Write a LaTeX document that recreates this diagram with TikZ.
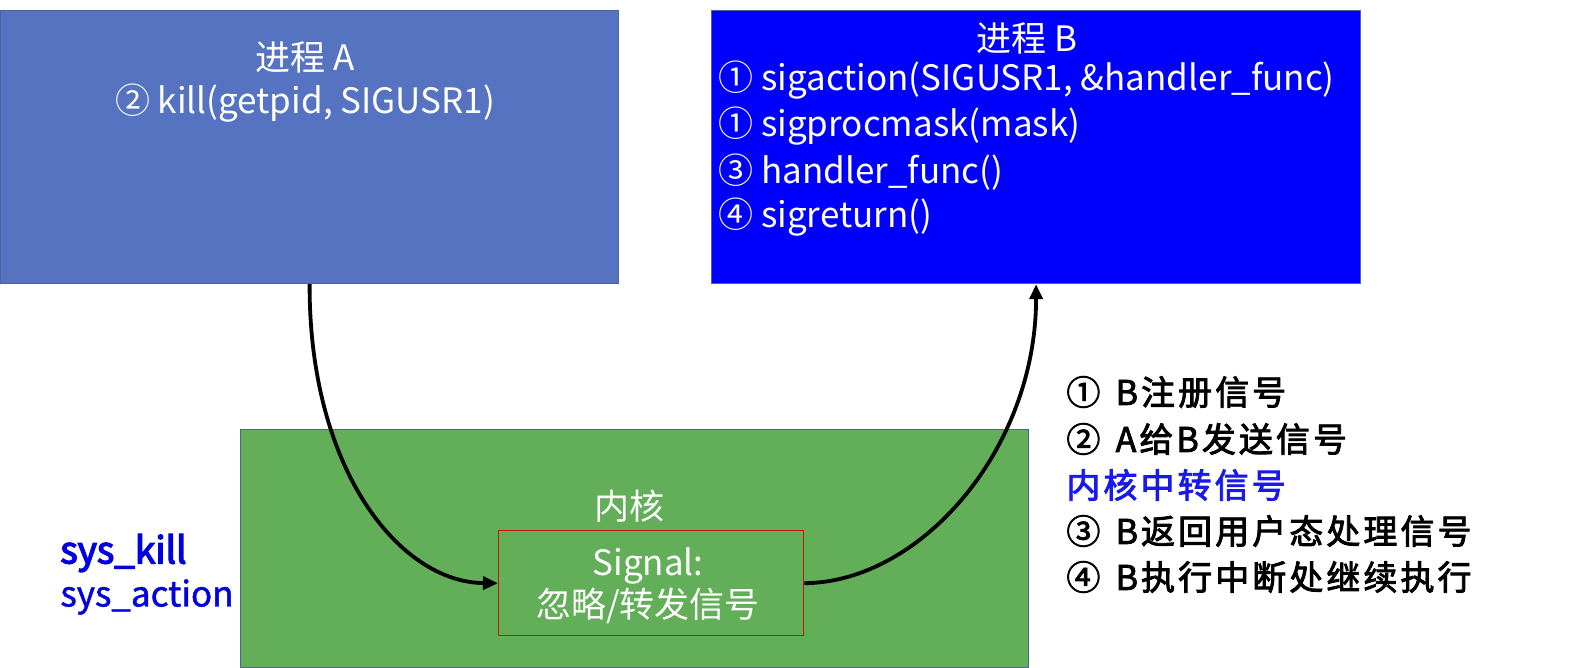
\documentclass[tikz,border=0pt]{standalone}
\usepackage{fontspec}
\setmainfont{Noto Sans CJK SC}
\newfontfamily\legendfont[FakeBold=2.5,LetterSpace=9]{Noto Sans CJK SC}
\newfontfamily\syskfont[FakeBold=3.5]{Noto Sans CJK SC}
\newfontfamily\sysafont[FakeBold=1.2]{Noto Sans CJK SC}
\usetikzlibrary{arrows.meta}
\definecolor{aFill}{RGB}{85,115,193}
\definecolor{edgeC}{RGB}{75,100,155}
\definecolor{bFill}{RGB}{0,0,255}
\definecolor{gFill}{RGB}{99,174,88}
\definecolor{redC}{RGB}{200,20,10}
\definecolor{sysC}{RGB}{0,0,225}
\definecolor{midC}{RGB}{25,25,235}
\tikzset{
  region/.style={draw=edgeC, line width=0.6pt, inner sep=0pt, anchor=north west},
  boxtext/.style={text=white, inner sep=0pt, font=\fontsize{17.5}{20}\selectfont},
  listtext/.style={boxtext, anchor=west},
  legendtext/.style={inner sep=0pt, anchor=west, font=\legendfont\fontsize{17}{20}\selectfont},
  flow/.style={line width=1.9pt, -{Triangle[length=7.5pt,width=6.5pt]}},
}
\newcommand{\lgap}{\hspace{0.45em}}
\begin{document}
\begin{tikzpicture}[x=0.5pt,y=-0.5pt]
\useasboundingbox (0,0) rectangle (1581,668);
% regions
\node (A) [region, fill=aFill, minimum width=309pt, minimum height=136.5pt] at (0,10) {};
\node (B) [region, fill=bFill, minimum width=324.5pt, minimum height=136.5pt] at (711,10) {};
\node (K) [region, fill=gFill, minimum width=394pt, minimum height=119pt] at (240,429) {};
\node (S) [draw=redC, line width=0.7pt, inner sep=0pt, anchor=north west, minimum width=152.5pt, minimum height=52.5pt] at (498,530) {};
% process A text
\node (at) [boxtext] at (305,57) {进程 A};
\node (ak) [boxtext] at (305,103) {② kill(getpid, SIGUSR1)};
% process B text
\node (bt) [boxtext] at (1027,38) {进程 B};
\node (b1) [listtext] at (718,80) {① sigaction(SIGUSR1, \&handler\_func)};
\node (b2) [listtext] at (718,126) {① sigprocmask(mask)};
\node (b3) [listtext] at (718,172) {③ handler\_func()};
\node (b4) [listtext] at (718,217) {④ sigreturn()};
% kernel text
\node (kt) [boxtext] at (629,506) {内核};
\node (s1) [boxtext] at (648,566) {Signal:};
\node (s2) [boxtext] at (648,606) {忽略/转发信号};
% syscalls
\node (sk) [inner sep=0pt, anchor=west, text=sysC, font=\syskfont\fontsize{18.5}{21}\selectfont] at (60,553) {sys\_kill};
\node (sa) [inner sep=0pt, anchor=west, text=sysC, font=\sysafont\fontsize{17.5}{20}\selectfont] at (60,597) {sys\_action};
% legend
\node (l1) [legendtext] at (1066,392) {①\lgap B注册信号};
\node (l2) [legendtext] at (1066,439) {②\lgap A给B发送信号};
\node (l3) [legendtext, text=midC] at (1066,485) {内核中转信号};
\node (l4) [legendtext] at (1066,531) {③\lgap B返回用户态处理信号};
\node (l5) [legendtext] at (1066,577) {④\lgap B执行中断处继续执行};
% arrows
\draw[flow] (A.south) .. controls (309,470) and (400,582.5) .. (S.west);
\draw[flow] (S.east) .. controls (920,582.5) and (1036,450) .. (B.south);
\end{tikzpicture}
\end{document}
